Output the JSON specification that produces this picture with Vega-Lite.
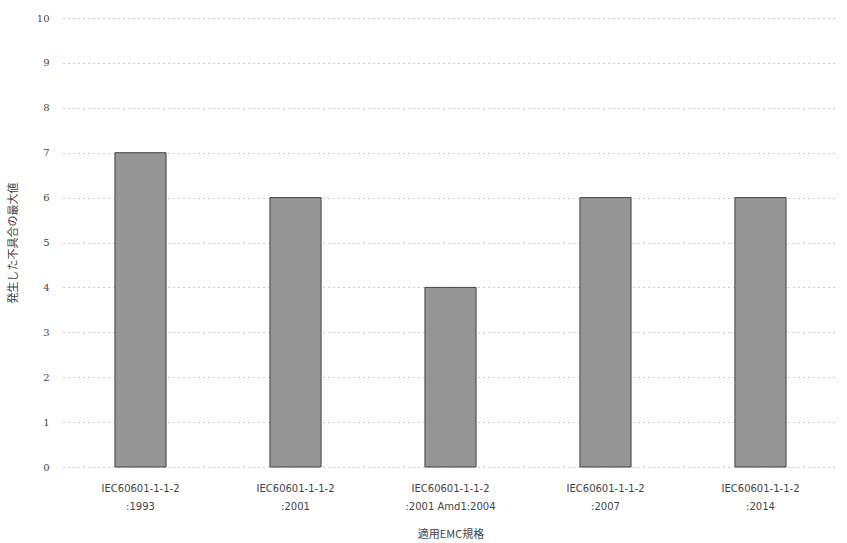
{
  "$schema": "https://vega.github.io/schema/vega-lite/v6.json",
  "width": 775,
  "height": 449,
  "autosize": {"type": "none"},
  "padding": {"left": 63, "top": 18, "right": 9, "bottom": 76},
  "background": "white",
  "data": {
    "values": [
      {"standard": "IEC60601-1-1-2|:1993", "value": 7},
      {"standard": "IEC60601-1-1-2|:2001", "value": 6},
      {"standard": "IEC60601-1-1-2|:2001 Amd1:2004", "value": 4},
      {"standard": "IEC60601-1-1-2|:2007", "value": 6},
      {"standard": "IEC60601-1-1-2|:2014", "value": 6}
    ]
  },
  "mark": {"type": "bar", "fill": "#959595", "stroke": "#444444", "strokeWidth": 1},
  "encoding": {
    "x": {
      "field": "standard",
      "type": "nominal",
      "sort": null,
      "scale": {"paddingInner": 0.67, "paddingOuter": 0.335},
      "axis": {
        "title": "適用EMC規格",
        "titleFont": "Noto Sans CJK JP",
        "titleFontSize": 11,
        "titleFontWeight": "normal",
        "titleColor": "#444444",
        "titlePadding": 17,
        "labelExpr": "split(datum.label, '|')",
        "labelAngle": 0,
        "labelFont": "DejaVu Sans",
        "labelFontSize": 10,
        "labelColor": "#444444",
        "labelLineHeight": 18,
        "labelPadding": 16,
        "domain": false,
        "ticks": false,
        "grid": false
      }
    },
    "y": {
      "field": "value",
      "type": "quantitative",
      "scale": {"domain": [0, 10]},
      "axis": {
        "title": "発生した不具合の最大値",
        "titleFont": "Noto Sans CJK JP",
        "titleFontSize": 11,
        "titleFontWeight": "normal",
        "titleColor": "#444444",
        "titlePadding": 18,
        "values": [0, 1, 2, 3, 4, 5, 6, 7, 8, 9, 10],
        "labelFont": "DejaVu Serif",
        "labelFontSize": 10,
        "labelColor": "#444444",
        "labelPadding": 14,
        "domain": false,
        "ticks": false,
        "grid": true,
        "gridColor": "#999999",
        "gridDash": [1, 4],
        "gridWidth": 1
      }
    }
  },
  "config": {"view": {"stroke": null}}
}
